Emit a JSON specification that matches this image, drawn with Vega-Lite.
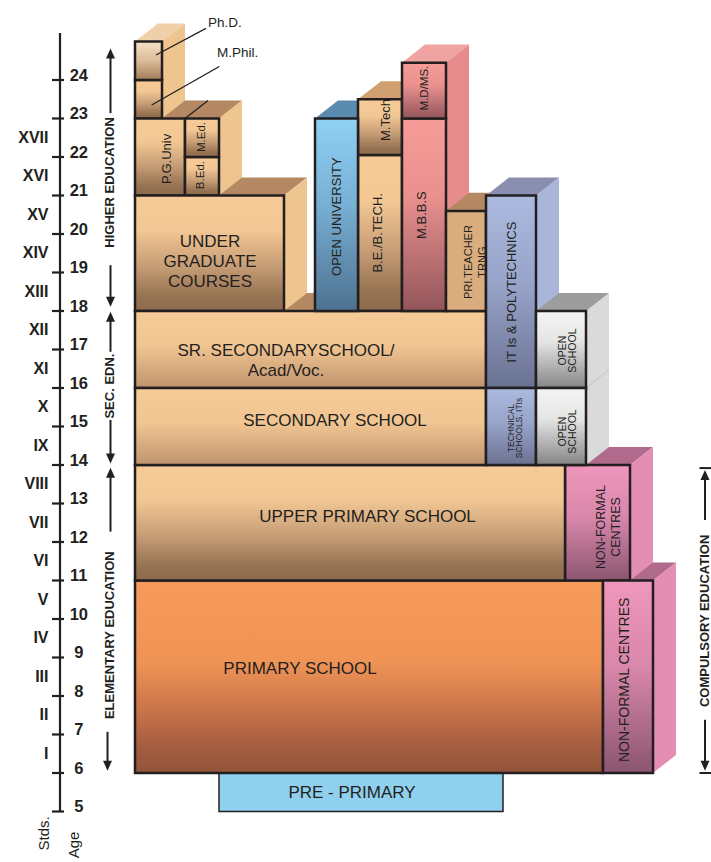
{
"$schema": "https://vega.github.io/schema/vega-lite/v6.json",
"width": 711, "height": 862, "autosize": {"type": "none"}, "padding": 0,
"background": "white",
"config": {"view": {"stroke": null}},
"datasets": {
"tops": [
{"id":"srTop","k":"tanTop","y":18,"x":135,"x2":486},{"id":"srTop","k":"tanTop","y":18.47,"x":158,"x2":509},
{"id":"ugTop","k":"tanTop","y":21,"x":135,"x2":284},{"id":"ugTop","k":"tanTop","y":21.47,"x":158,"x2":307},
{"id":"pgTop","k":"tanTop","y":23,"x":135,"x2":219},{"id":"pgTop","k":"tanTop","y":23.47,"x":158,"x2":242},
{"id":"phdTop","k":"phdTop","y":25,"x":135,"x2":162},{"id":"phdTop","k":"phdTop","y":25.47,"x":158,"x2":185},
{"id":"ouTop","k":"blueTop","y":23,"x":315,"x2":358},{"id":"ouTop","k":"blueTop","y":23.47,"x":338,"x2":381},
{"id":"mtTop","k":"mtechTop","y":23.5,"x":358,"x2":402},{"id":"mtTop","k":"mtechTop","y":23.97,"x":381,"x2":425},
{"id":"mdTop","k":"pinkTop","y":24.45,"x":402,"x2":446},{"id":"mdTop","k":"pinkTop","y":24.92,"x":425,"x2":469},
{"id":"nfcLTop","k":"mauveTop","y":11,"x":603,"x2":653},{"id":"nfcLTop","k":"mauveTop","y":11.47,"x":626,"x2":676},
{"id":"nfcUTop","k":"mauveTop","y":14,"x":565,"x2":630},{"id":"nfcUTop","k":"mauveTop","y":14.47,"x":588,"x2":653},
{"id":"priTop","k":"tanTop","y":20.6,"x":446,"x2":486},{"id":"priTop","k":"tanTop","y":21.07,"x":469,"x2":509},
{"id":"osTop","k":"greyTop","y":18,"x":536,"x2":586},{"id":"osTop","k":"greyTop","y":18.47,"x":559,"x2":609},
{"id":"polyTop","k":"lavTop","y":21,"x":486,"x2":536},{"id":"polyTop","k":"lavTop","y":21.47,"x":509,"x2":559}
],
"sides": [
{"id":"ugSide","k":"tanSide","x":284,"lo":18,"hi":21},{"id":"ugSide","k":"tanSide","x":307,"lo":18.47,"hi":21.47},
{"id":"pgSide","k":"tanSide","x":219,"lo":21,"hi":23},{"id":"pgSide","k":"tanSide","x":242,"lo":21.47,"hi":23.47},
{"id":"phdSide","k":"tanSide","x":162,"lo":23,"hi":25},{"id":"phdSide","k":"tanSide","x":185,"lo":23.47,"hi":25.47},
{"id":"mdSide","k":"pinkSide","x":446,"lo":18,"hi":24.45},{"id":"mdSide","k":"pinkSide","x":469,"lo":18.47,"hi":24.92},
{"id":"polySide","k":"lavSide","x":536,"lo":16,"hi":21},{"id":"polySide","k":"lavSide","x":559,"lo":16.47,"hi":21.47},
{"id":"nfcLSide","k":"nfcSide","x":653,"lo":6,"hi":11},{"id":"nfcLSide","k":"nfcSide","x":676,"lo":6.47,"hi":11.47},
{"id":"nfcUSide","k":"nfcSide","x":630,"lo":11,"hi":14},{"id":"nfcUSide","k":"nfcSide","x":653,"lo":11.47,"hi":14.47},
{"id":"osSide","k":"greySide","x":586,"lo":14,"hi":18},{"id":"osSide","k":"greySide","x":609,"lo":14.47,"hi":18.47}
],
"fronts": [
{"id":"pre","g":"preblue","x":219,"x2":503,"y":5,"y2":6},
{"id":"phd","g":"phd","x":135,"x2":162,"y":24,"y2":25},
{"id":"mphil","g":"tan","x":135,"x2":162,"y":23,"y2":24},
{"id":"pg","g":"tan","x":135,"x2":185,"y":21,"y2":23},
{"id":"bed","g":"tan","x":185,"x2":219,"y":21,"y2":22},
{"id":"med","g":"tan","x":185,"x2":219,"y":22,"y2":23},
{"id":"ug","g":"tan","x":135,"x2":284,"y":18,"y2":21},
{"id":"ou","g":"blue","x":315,"x2":358,"y":18,"y2":23},
{"id":"be","g":"tan","x":358,"x2":402,"y":18,"y2":22.05},
{"id":"mtech","g":"tan","x":358,"x2":402,"y":22.05,"y2":23.5},
{"id":"mbbs","g":"pink","x":402,"x2":446,"y":18,"y2":23},
{"id":"md","g":"pink","x":402,"x2":446,"y":23,"y2":24.45},
{"id":"pri","g":"flat","x":446,"x2":486,"y":18,"y2":20.6},
{"id":"poly","g":"lav","x":486,"x2":536,"y":16,"y2":21},
{"id":"osU","g":"grey","x":536,"x2":586,"y":16,"y2":18},
{"id":"sr","g":"tanL","x":135,"x2":486,"y":16,"y2":18},
{"id":"sec","g":"tanL","x":135,"x2":486,"y":14,"y2":16},
{"id":"tech","g":"lav","x":486,"x2":536,"y":14,"y2":16},
{"id":"osL","g":"grey","x":536,"x2":586,"y":14,"y2":16},
{"id":"up","g":"tan","x":135,"x2":565,"y":11,"y2":14},
{"id":"nfcU","g":"nfc","x":565,"x2":630,"y":11,"y2":14},
{"id":"prim","g":"orange","x":135,"x2":603,"y":6,"y2":11},
{"id":"nfcL","g":"nfc","x":603,"x2":653,"y":6,"y2":11}
],
"lines": [
{"id":"phdPtr","x":156,"y":24.65,"x2":206,"y2":25.34},
{"id":"mphilPtr","x":151.7,"y":23.35,"x2":219.3,"y2":24.35},
{"id":"pgDiv","x":185,"y":23.0,"x2":208,"y2":23.47}
],
"faint": [
{"id":"osDiv","x":586,"y":16,"x2":609,"y2":16.47}
],
"labels": [
{"s":"big","t":"PRIMARY SCHOOL","x":300,"y":8.70},
{"s":"big","t":"UPPER PRIMARY SCHOOL","x":367.5,"y":12.65},
{"s":"big","t":"SECONDARY SCHOOL","x":335,"y":15.14},
{"s":"big","t":"SR. SECONDARYSCHOOL/\nAcad/Voc.","x":286,"y":16.96},
{"s":"big","t":"UNDER\nGRADUATE\nCOURSES","x":210,"y":19.79},
{"s":"big","t":"PRE  - PRIMARY","x":352,"y":5.48},
{"s":"r13","t":"OPEN UNIVERSITY","x":337,"y":20.45},
{"s":"r13","t":"B.E./B.TECH.","x":378,"y":20.03},
{"s":"r13","t":"M.B.B.S","x":422,"y":20.49},
{"s":"r13","t":"M.Tech","x":386,"y":22.96},
{"s":"r13","t":"IT Is & POLYTECHNICS","x":512,"y":18.49},
{"s":"r13","t":"P.G.Univ","x":167,"y":21.95},
{"s":"r115","t":"M.D/MS.","x":425,"y":23.79},
{"s":"r115","t":"B.Ed.","x":201,"y":21.53},
{"s":"r115","t":"M.Ed.","x":201.5,"y":22.52},
{"s":"r14","t":"NON-FORMAL CENTRES","x":625,"y":8.42},
{"s":"nfc2","t":"NON-FORMAL\nCENTRES","x":601,"y":12.39},
{"s":"pri2","t":"PRI.TEACHER\nTRNG","x":469,"y":19.27},
{"s":"os2","t":"OPEN\nSCHOOL","x":562.5,"y":16.97},
{"s":"os2","t":"OPEN\nSCHOOL","x":562.5,"y":14.87},
{"s":"tech2","t":"TECHNICAL\nSCHOOLS, ITIs","x":511,"y":14.96},
{"s":"ptr","t":"Ph.D.","x":208,"y":25.48},
{"s":"ptr","t":"M.Phil.","x":217,"y":24.71},
{"s":"head","t":"HIGHER EDUCATION","x":110,"y":21.34},
{"s":"head","t":"SEC. EDN.","x":110,"y":16.05},
{"s":"head","t":"ELEMENTARY EDUCATION","x":110,"y":9.58},
{"s":"head","t":"COMPULSORY EDUCATION","x":704.5,"y":9.95},
{"s":"cap","t":"Stds.","x":43.5,"y":4.43},
{"s":"cap","t":"Age","x":74,"y":4.13}
],
"ages": [
{"a":5},{"a":6},{"a":7},{"a":8},{"a":9},{"a":10},{"a":11},{"a":12},{"a":13},{"a":14},
{"a":15},{"a":16},{"a":17},{"a":18},{"a":19},{"a":20},{"a":21},{"a":22},{"a":23},{"a":24}
],
"stds": [
{"t":"I","a":6.5},{"t":"II","a":7.5},{"t":"III","a":8.5},{"t":"IV","a":9.5},{"t":"V","a":10.5},
{"t":"VI","a":11.5},{"t":"VII","a":12.5},{"t":"VIII","a":13.5},{"t":"IX","a":14.5},{"t":"X","a":15.5},
{"t":"XI","a":16.5},{"t":"XII","a":17.5},{"t":"XIII","a":18.5},{"t":"XIV","a":19.5},{"t":"XV","a":20.5},
{"t":"XVI","a":21.5},{"t":"XVII","a":22.5}
],
"axisline": [{"x":60,"y":5,"y2":25.22}],
"shafts": [
{"x":110.5,"y":24.6,"y2":23.14},{"x":110.5,"y":19.19,"y2":18.3},
{"x":110.5,"y":17.8,"y2":16.94},{"x":110.5,"y":15.17,"y2":14.25},
{"x":110.5,"y":13.75,"y2":12.27},{"x":107.5,"y":7.07,"y2":6.25},
{"x":705,"y":13.7,"y2":12.57},{"x":705,"y":7.38,"y2":6.25}
],
"heads": [
{"x":110.5,"y":24.69,"dir":"up"},{"x":110.5,"y":18.24,"dir":"down"},
{"x":110.5,"y":17.85,"dir":"up"},{"x":110.5,"y":14.17,"dir":"down"},
{"x":110.5,"y":13.80,"dir":"up"},{"x":107.5,"y":6.19,"dir":"down"},
{"x":705,"y":13.74,"dir":"up"},{"x":705,"y":6.19,"dir":"down"}
],
"bars": [{"y":13.92,"x":699.5,"x2":711},{"y":6.0,"x":699.5,"x2":711}]
},
"layer": [
{"data":{"name":"tops"},"transform":[{"filter":"indexof(['priTop','osTop','polyTop'], datum.id) < 0"}],
 "mark":{"type":"area","orient":"horizontal","opacity":1},
 "encoding":{"y":{"field":"y","type":"quantitative","scale":{"domain":[3.6883,26.0779],"nice":false,"zero":false},"axis":null},
  "x":{"field":"x","type":"quantitative","stack":null,"scale":{"domain":[0,711],"nice":false,"zero":false},"axis":null},"x2":{"field":"x2"},
  "detail":{"field":"id"},
  "color":{"field":"k","type":"nominal","legend":null,"scale":{"domain":["tanTop","tanSide","phdTop","mtechTop","blueTop","pinkSide","pinkTop","lavSide","lavTop","mauveTop","nfcSide","greyTop","greySide"],"range":["#b38862","#eec48f","#efd0a9","#d0a071","#5a8aad","#e68c8d","#efa4a3","#a9b6da","#8a8fb0","#b06a8c","#e48eb3","#9d9d9d","#dadada"]}}}},
{"data":{"name":"sides"},
 "mark":{"type":"area","orient":"vertical","opacity":1},
 "encoding":{"x":{"field":"x","type":"quantitative","scale":{"domain":[0,711],"nice":false,"zero":false},"axis":null},
  "y":{"field":"lo","type":"quantitative","stack":null,"scale":{"domain":[3.6883,26.0779],"nice":false,"zero":false},"axis":null},"y2":{"field":"hi"},
  "detail":{"field":"id"},
  "color":{"field":"k","type":"nominal","legend":null,"scale":{"domain":["tanTop","tanSide","phdTop","mtechTop","blueTop","pinkSide","pinkTop","lavSide","lavTop","mauveTop","nfcSide","greyTop","greySide"],"range":["#b38862","#eec48f","#efd0a9","#d0a071","#5a8aad","#e68c8d","#efa4a3","#a9b6da","#8a8fb0","#b06a8c","#e48eb3","#9d9d9d","#dadada"]}}}},
{"data":{"name":"tops"},"transform":[{"filter":"datum.id == 'priTop' || datum.id == 'osTop'"}],
 "mark":{"type":"area","orient":"horizontal","opacity":1},
 "encoding":{"y":{"field":"y","type":"quantitative","scale":{"domain":[3.6883,26.0779],"nice":false,"zero":false},"axis":null},
  "x":{"field":"x","type":"quantitative","stack":null,"scale":{"domain":[0,711],"nice":false,"zero":false},"axis":null},"x2":{"field":"x2"},
  "detail":{"field":"id"},
  "color":{"field":"k","type":"nominal","legend":null}}},
{"data":{"name":"tops"},"transform":[{"filter":"datum.id == 'polyTop'"}],
 "mark":{"type":"area","orient":"horizontal","opacity":1},
 "encoding":{"y":{"field":"y","type":"quantitative","scale":{"domain":[3.6883,26.0779],"nice":false,"zero":false},"axis":null},
  "x":{"field":"x","type":"quantitative","stack":null,"scale":{"domain":[0,711],"nice":false,"zero":false},"axis":null},"x2":{"field":"x2"},
  "detail":{"field":"id"},
  "color":{"field":"k","type":"nominal","legend":null}}},
{"data":{"name":"faint"},
 "mark":{"type":"rule","color":"#c4c4c4","strokeWidth":1},
 "encoding":{"x":{"field":"x","type":"quantitative","scale":{"domain":[0,711],"nice":false,"zero":false},"axis":null},"x2":{"field":"x2"},
  "y":{"field":"y","type":"quantitative","scale":{"domain":[3.6883,26.0779],"nice":false,"zero":false},"axis":null},"y2":{"field":"y2"}}},
{"data":{"name":"fronts"},"transform":[{"filter":"datum.g == 'preblue'"}],
 "mark":{"type":"rect","fill":"#8fd0ee","stroke":"#231f20","strokeWidth":1.5},
 "encoding":{"x":{"field":"x","type":"quantitative","scale":{"domain":[0,711],"nice":false,"zero":false},"axis":null},"x2":{"field":"x2"},
  "y":{"field":"y","type":"quantitative","scale":{"domain":[3.6883,26.0779],"nice":false,"zero":false},"axis":null},"y2":{"field":"y2"}}},
{"data":{"name":"fronts"},"transform":[{"filter":"datum.g == 'orange'"}],
 "mark":{"type":"rect","stroke":"#231f20","strokeWidth":2.5,"fill":{"gradient":"linear","x1":0,"y1":0,"x2":0,"y2":1,"stops":[{"offset":0,"color":"#f69b5b"},{"offset":0.42,"color":"#f09456"},{"offset":0.68,"color":"#c8734a"},{"offset":0.86,"color":"#a55d40"},{"offset":1,"color":"#93543a"}]}},
 "encoding":{"x":{"field":"x","type":"quantitative","scale":{"domain":[0,711],"nice":false,"zero":false},"axis":null},"x2":{"field":"x2"},
  "y":{"field":"y","type":"quantitative","scale":{"domain":[3.6883,26.0779],"nice":false,"zero":false},"axis":null},"y2":{"field":"y2"}}},
{"data":{"name":"fronts"},"transform":[{"filter":"datum.g == 'nfc'"}],
 "mark":{"type":"rect","stroke":"#231f20","strokeWidth":2.5,"fill":{"gradient":"linear","x1":0,"y1":0,"x2":0,"y2":1,"stops":[{"offset":0,"color":"#ef96bc"},{"offset":0.45,"color":"#d987ab"},{"offset":1,"color":"#8b5570"}]}},
 "encoding":{"x":{"field":"x","type":"quantitative","scale":{"domain":[0,711],"nice":false,"zero":false},"axis":null},"x2":{"field":"x2"},
  "y":{"field":"y","type":"quantitative","scale":{"domain":[3.6883,26.0779],"nice":false,"zero":false},"axis":null},"y2":{"field":"y2"}}},
{"data":{"name":"fronts"},"transform":[{"filter":"datum.g == 'tan'"}],
 "mark":{"type":"rect","stroke":"#231f20","strokeWidth":2.5,"fill":{"gradient":"linear","x1":0,"y1":0,"x2":0,"y2":1,"stops":[{"offset":0,"color":"#f6cb97"},{"offset":0.3,"color":"#f2c794"},{"offset":0.62,"color":"#c59c75"},{"offset":0.88,"color":"#957251"},{"offset":1,"color":"#8d6b4d"}]}},
 "encoding":{"x":{"field":"x","type":"quantitative","scale":{"domain":[0,711],"nice":false,"zero":false},"axis":null},"x2":{"field":"x2"},
  "y":{"field":"y","type":"quantitative","scale":{"domain":[3.6883,26.0779],"nice":false,"zero":false},"axis":null},"y2":{"field":"y2"}}},
{"data":{"name":"fronts"},"transform":[{"filter":"datum.g == 'tanL'"}],
 "mark":{"type":"rect","stroke":"#231f20","strokeWidth":2.5,"fill":{"gradient":"linear","x1":0,"y1":0,"x2":0,"y2":1,"stops":[{"offset":0,"color":"#f6cb97"},{"offset":0.45,"color":"#f1c592"},{"offset":1,"color":"#bf946d"}]}},
 "encoding":{"x":{"field":"x","type":"quantitative","scale":{"domain":[0,711],"nice":false,"zero":false},"axis":null},"x2":{"field":"x2"},
  "y":{"field":"y","type":"quantitative","scale":{"domain":[3.6883,26.0779],"nice":false,"zero":false},"axis":null},"y2":{"field":"y2"}}},
{"data":{"name":"fronts"},"transform":[{"filter":"datum.g == 'phd'"}],
 "mark":{"type":"rect","stroke":"#231f20","strokeWidth":2.5,"fill":{"gradient":"linear","x1":0,"y1":0,"x2":0,"y2":1,"stops":[{"offset":0,"color":"#f6dfc6"},{"offset":0.5,"color":"#dcbc99"},{"offset":1,"color":"#a17c5a"}]}},
 "encoding":{"x":{"field":"x","type":"quantitative","scale":{"domain":[0,711],"nice":false,"zero":false},"axis":null},"x2":{"field":"x2"},
  "y":{"field":"y","type":"quantitative","scale":{"domain":[3.6883,26.0779],"nice":false,"zero":false},"axis":null},"y2":{"field":"y2"}}},
{"data":{"name":"fronts"},"transform":[{"filter":"datum.g == 'blue'"}],
 "mark":{"type":"rect","stroke":"#231f20","strokeWidth":2.5,"fill":{"gradient":"linear","x1":0,"y1":0,"x2":0,"y2":1,"stops":[{"offset":0,"color":"#90d1f3"},{"offset":0.45,"color":"#78afd4"},{"offset":1,"color":"#4e7190"}]}},
 "encoding":{"x":{"field":"x","type":"quantitative","scale":{"domain":[0,711],"nice":false,"zero":false},"axis":null},"x2":{"field":"x2"},
  "y":{"field":"y","type":"quantitative","scale":{"domain":[3.6883,26.0779],"nice":false,"zero":false},"axis":null},"y2":{"field":"y2"}}},
{"data":{"name":"fronts"},"transform":[{"filter":"datum.g == 'pink'"}],
 "mark":{"type":"rect","stroke":"#231f20","strokeWidth":2.5,"fill":{"gradient":"linear","x1":0,"y1":0,"x2":0,"y2":1,"stops":[{"offset":0,"color":"#f59c98"},{"offset":0.4,"color":"#ea918f"},{"offset":1,"color":"#93555a"}]}},
 "encoding":{"x":{"field":"x","type":"quantitative","scale":{"domain":[0,711],"nice":false,"zero":false},"axis":null},"x2":{"field":"x2"},
  "y":{"field":"y","type":"quantitative","scale":{"domain":[3.6883,26.0779],"nice":false,"zero":false},"axis":null},"y2":{"field":"y2"}}},
{"data":{"name":"fronts"},"transform":[{"filter":"datum.g == 'flat'"}],
 "mark":{"type":"rect","stroke":"#231f20","strokeWidth":2.5,"fill":"#d9ad7e"},
 "encoding":{"x":{"field":"x","type":"quantitative","scale":{"domain":[0,711],"nice":false,"zero":false},"axis":null},"x2":{"field":"x2"},
  "y":{"field":"y","type":"quantitative","scale":{"domain":[3.6883,26.0779],"nice":false,"zero":false},"axis":null},"y2":{"field":"y2"}}},
{"data":{"name":"fronts"},"transform":[{"filter":"datum.g == 'lav'"}],
 "mark":{"type":"rect","stroke":"#231f20","strokeWidth":2.5,"fill":{"gradient":"linear","x1":0,"y1":0,"x2":0,"y2":1,"stops":[{"offset":0,"color":"#abbadf"},{"offset":0.45,"color":"#98a4ca"},{"offset":1,"color":"#6a7291"}]}},
 "encoding":{"x":{"field":"x","type":"quantitative","scale":{"domain":[0,711],"nice":false,"zero":false},"axis":null},"x2":{"field":"x2"},
  "y":{"field":"y","type":"quantitative","scale":{"domain":[3.6883,26.0779],"nice":false,"zero":false},"axis":null},"y2":{"field":"y2"}}},
{"data":{"name":"fronts"},"transform":[{"filter":"datum.g == 'grey'"}],
 "mark":{"type":"rect","stroke":"#231f20","strokeWidth":2.5,"fill":{"gradient":"linear","x1":0,"y1":0,"x2":0,"y2":1,"stops":[{"offset":0,"color":"#f3f4f3"},{"offset":0.4,"color":"#e4e5e4"},{"offset":1,"color":"#858585"}]}},
 "encoding":{"x":{"field":"x","type":"quantitative","scale":{"domain":[0,711],"nice":false,"zero":false},"axis":null},"x2":{"field":"x2"},
  "y":{"field":"y","type":"quantitative","scale":{"domain":[3.6883,26.0779],"nice":false,"zero":false},"axis":null},"y2":{"field":"y2"}}},
{"data":{"name":"lines"},
 "mark":{"type":"rule","color":"#231f20","strokeWidth":1.3},
 "encoding":{"x":{"field":"x","type":"quantitative","scale":{"domain":[0,711],"nice":false,"zero":false},"axis":null},"x2":{"field":"x2"},
  "y":{"field":"y","type":"quantitative","scale":{"domain":[3.6883,26.0779],"nice":false,"zero":false},"axis":null},"y2":{"field":"y2"}}},
{"data":{"name":"labels"},"transform":[{"filter":"datum.s == 'big'"}],
 "mark":{"type":"text","font":"Liberation Sans","fontSize":17,"align":"center","baseline":"middle","color":"#231f20","lineBreak":"\n","lineHeight":20},
 "encoding":{"x":{"field":"x","type":"quantitative","scale":{"domain":[0,711],"nice":false,"zero":false},"axis":null},
  "y":{"field":"y","type":"quantitative","scale":{"domain":[3.6883,26.0779],"nice":false,"zero":false},"axis":null},"text":{"field":"t"}}},
{"data":{"name":"labels"},"transform":[{"filter":"datum.s == 'r13'"}],
 "mark":{"type":"text","font":"Liberation Sans","fontSize":13,"angle":270,"align":"center","baseline":"middle","color":"#231f20"},
 "encoding":{"x":{"field":"x","type":"quantitative","scale":{"domain":[0,711],"nice":false,"zero":false},"axis":null},
  "y":{"field":"y","type":"quantitative","scale":{"domain":[3.6883,26.0779],"nice":false,"zero":false},"axis":null},"text":{"field":"t"}}},
{"data":{"name":"labels"},"transform":[{"filter":"datum.s == 'r115'"}],
 "mark":{"type":"text","font":"Liberation Sans","fontSize":11.5,"angle":270,"align":"center","baseline":"middle","color":"#231f20"},
 "encoding":{"x":{"field":"x","type":"quantitative","scale":{"domain":[0,711],"nice":false,"zero":false},"axis":null},
  "y":{"field":"y","type":"quantitative","scale":{"domain":[3.6883,26.0779],"nice":false,"zero":false},"axis":null},"text":{"field":"t"}}},
{"data":{"name":"labels"},"transform":[{"filter":"datum.s == 'r14'"}],
 "mark":{"type":"text","font":"Liberation Sans","fontSize":14,"angle":270,"align":"center","baseline":"middle","color":"#231f20"},
 "encoding":{"x":{"field":"x","type":"quantitative","scale":{"domain":[0,711],"nice":false,"zero":false},"axis":null},
  "y":{"field":"y","type":"quantitative","scale":{"domain":[3.6883,26.0779],"nice":false,"zero":false},"axis":null},"text":{"field":"t"}}},
{"data":{"name":"labels"},"transform":[{"filter":"datum.s == 'nfc2'"}],
 "mark":{"type":"text","font":"Liberation Sans","fontSize":12.5,"angle":270,"align":"center","baseline":"middle","color":"#231f20","lineBreak":"\n","lineHeight":15},
 "encoding":{"x":{"field":"x","type":"quantitative","scale":{"domain":[0,711],"nice":false,"zero":false},"axis":null},
  "y":{"field":"y","type":"quantitative","scale":{"domain":[3.6883,26.0779],"nice":false,"zero":false},"axis":null},"text":{"field":"t"}}},
{"data":{"name":"labels"},"transform":[{"filter":"datum.s == 'pri2'"}],
 "mark":{"type":"text","font":"Liberation Sans","fontSize":11,"angle":270,"align":"center","baseline":"middle","color":"#231f20","lineBreak":"\n","lineHeight":13.5},
 "encoding":{"x":{"field":"x","type":"quantitative","scale":{"domain":[0,711],"nice":false,"zero":false},"axis":null},
  "y":{"field":"y","type":"quantitative","scale":{"domain":[3.6883,26.0779],"nice":false,"zero":false},"axis":null},"text":{"field":"t"}}},
{"data":{"name":"labels"},"transform":[{"filter":"datum.s == 'os2'"}],
 "mark":{"type":"text","font":"Liberation Sans","fontSize":10.5,"angle":270,"align":"center","baseline":"middle","color":"#231f20","lineBreak":"\n","lineHeight":10.5},
 "encoding":{"x":{"field":"x","type":"quantitative","scale":{"domain":[0,711],"nice":false,"zero":false},"axis":null},
  "y":{"field":"y","type":"quantitative","scale":{"domain":[3.6883,26.0779],"nice":false,"zero":false},"axis":null},"text":{"field":"t"}}},
{"data":{"name":"labels"},"transform":[{"filter":"datum.s == 'tech2'"}],
 "mark":{"type":"text","font":"Liberation Sans","fontSize":8.5,"angle":270,"align":"center","baseline":"middle","color":"#231f20","lineBreak":"\n","lineHeight":8},
 "encoding":{"x":{"field":"x","type":"quantitative","scale":{"domain":[0,711],"nice":false,"zero":false},"axis":null},
  "y":{"field":"y","type":"quantitative","scale":{"domain":[3.6883,26.0779],"nice":false,"zero":false},"axis":null},"text":{"field":"t"}}},
{"data":{"name":"labels"},"transform":[{"filter":"datum.s == 'ptr'"}],
 "mark":{"type":"text","font":"Liberation Sans","fontSize":13.5,"align":"left","baseline":"middle","color":"#231f20"},
 "encoding":{"x":{"field":"x","type":"quantitative","scale":{"domain":[0,711],"nice":false,"zero":false},"axis":null},
  "y":{"field":"y","type":"quantitative","scale":{"domain":[3.6883,26.0779],"nice":false,"zero":false},"axis":null},"text":{"field":"t"}}},
{"data":{"name":"labels"},"transform":[{"filter":"datum.s == 'head'"}],
 "mark":{"type":"text","font":"Liberation Sans","fontSize":13,"fontWeight":"bold","angle":270,"align":"center","baseline":"middle","color":"#231f20"},
 "encoding":{"x":{"field":"x","type":"quantitative","scale":{"domain":[0,711],"nice":false,"zero":false},"axis":null},
  "y":{"field":"y","type":"quantitative","scale":{"domain":[3.6883,26.0779],"nice":false,"zero":false},"axis":null},"text":{"field":"t"}}},
{"data":{"name":"labels"},"transform":[{"filter":"datum.s == 'cap'"}],
 "mark":{"type":"text","font":"Liberation Sans","fontSize":15,"angle":270,"align":"center","baseline":"middle","color":"#231f20"},
 "encoding":{"x":{"field":"x","type":"quantitative","scale":{"domain":[0,711],"nice":false,"zero":false},"axis":null},
  "y":{"field":"y","type":"quantitative","scale":{"domain":[3.6883,26.0779],"nice":false,"zero":false},"axis":null},"text":{"field":"t"}}},
{"data":{"name":"axisline"},
 "mark":{"type":"rule","color":"#231f20","strokeWidth":2.2},
 "encoding":{"x":{"field":"x","type":"quantitative","scale":{"domain":[0,711],"nice":false,"zero":false},"axis":null},
  "y":{"field":"y","type":"quantitative","scale":{"domain":[3.6883,26.0779],"nice":false,"zero":false},"axis":null},"y2":{"field":"y2"}}},
{"data":{"name":"ages"},
 "mark":{"type":"rule","color":"#231f20","strokeWidth":2.2},
 "encoding":{"x":{"datum":52,"type":"quantitative","scale":{"domain":[0,711],"nice":false,"zero":false},"axis":null},"x2":{"datum":64},
  "y":{"field":"a","type":"quantitative","scale":{"domain":[3.6883,26.0779],"nice":false,"zero":false},"axis":null}}},
{"data":{"name":"ages"},
 "mark":{"type":"text","font":"Liberation Sans","fontSize":16.5,"fontWeight":"bold","align":"center","baseline":"middle","dy":-4,"color":"#231f20"},
 "encoding":{"x":{"datum":78.8,"type":"quantitative","scale":{"domain":[0,711],"nice":false,"zero":false},"axis":null},
  "y":{"field":"a","type":"quantitative","scale":{"domain":[3.6883,26.0779],"nice":false,"zero":false},"axis":null},"text":{"field":"a","type":"nominal"}}},
{"data":{"name":"stds"},
 "mark":{"type":"text","font":"Liberation Sans","fontSize":16,"fontWeight":"bold","align":"right","baseline":"middle","color":"#231f20"},
 "encoding":{"x":{"datum":48.5,"type":"quantitative","scale":{"domain":[0,711],"nice":false,"zero":false},"axis":null},
  "y":{"field":"a","type":"quantitative","scale":{"domain":[3.6883,26.0779],"nice":false,"zero":false},"axis":null},"text":{"field":"t"}}},
{"data":{"name":"shafts"},
 "mark":{"type":"rule","color":"#231f20","strokeWidth":2},
 "encoding":{"x":{"field":"x","type":"quantitative","scale":{"domain":[0,711],"nice":false,"zero":false},"axis":null},
  "y":{"field":"y","type":"quantitative","scale":{"domain":[3.6883,26.0779],"nice":false,"zero":false},"axis":null},"y2":{"field":"y2"}}},
{"data":{"name":"bars"},
 "mark":{"type":"rule","color":"#231f20","strokeWidth":2},
 "encoding":{"x":{"field":"x","type":"quantitative","scale":{"domain":[0,711],"nice":false,"zero":false},"axis":null},"x2":{"field":"x2"},
  "y":{"field":"y","type":"quantitative","scale":{"domain":[3.6883,26.0779],"nice":false,"zero":false},"axis":null}}},
{"data":{"name":"heads"},
 "mark":{"type":"point","filled":true,"opacity":1,"size":100,"color":"#231f20","strokeWidth":0},
 "encoding":{"x":{"field":"x","type":"quantitative","scale":{"domain":[0,711],"nice":false,"zero":false},"axis":null},
  "y":{"field":"y","type":"quantitative","scale":{"domain":[3.6883,26.0779],"nice":false,"zero":false},"axis":null},
  "shape":{"field":"dir","type":"nominal","legend":null,"scale":{"domain":["up","down"],"range":["M0,-1L0.9,1L-0.9,1Z","M0,1L0.9,-1L-0.9,-1Z"]}}}}
]
}
